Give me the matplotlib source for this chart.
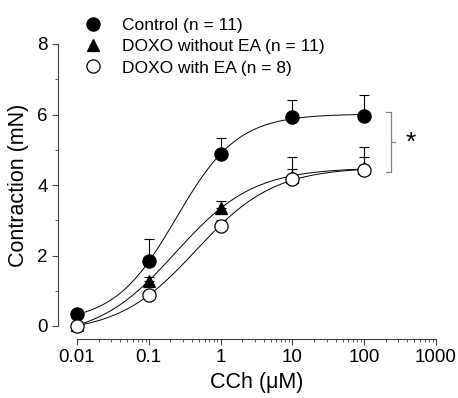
import numpy as np
import matplotlib
matplotlib.use("Agg")
import matplotlib.pyplot as plt

plt.rcParams.update({"font.family": ["Liberation Sans", "DejaVu Sans"]})

# data
conc = [0.01, 0.1, 1, 10, 100]
ctrl = [0.33, 1.83, 4.87, 5.92, 5.97]
ctrl_err = [0.08, 0.63, 0.45, 0.50, 0.57]
doxo = [0.02, 1.28, 3.36, 4.22, 4.48]
doxo_err = [0.04, 0.12, 0.20, 0.57, 0.60]
doxo_ea = [0.0, 0.89, 2.85, 4.17, 4.42]
doxo_ea_err = [0.03, 0.10, 0.15, 0.28, 0.38]
labels = ["Control (n = 11)", "DOXO without EA (n = 11)", "DOXO with EA (n = 8)"]


def hill_fit(x, y):
    """crude grid search fit of a 4-parameter logistic; bottom/top solved linearly"""
    lx = np.log10(np.asarray(x, float)); y = np.asarray(y, float)
    best = None
    for le in np.linspace(-2, 1, 301):
        for n in np.linspace(0.5, 2.5, 201):
            f = 1.0 / (1.0 + 10 ** ((le - lx) * n))
            A = np.column_stack([1 - f, f])
            coef, *_ = np.linalg.lstsq(A, y, rcond=None)
            r = np.sum((A @ coef - y) ** 2)
            if best is None or r < best[0]:
                best = (r, le, n, coef)
    _, le, n, (b, t) = best
    return lambda xx: b + (t - b) / (1.0 + 10 ** ((le - np.log10(xx)) * n))


fig = plt.figure(figsize=(4.58, 3.98), dpi=100)
ax = fig.add_axes([77 / 458, 72 / 398, 359 / 458, 282 / 398])

xs = np.logspace(-2, 2, 300)
series = [(ctrl, ctrl_err, "o", "black"), (doxo, doxo_err, "^", "black"), (doxo_ea, doxo_ea_err, "o", "white")]
handles = []
for (y, e, m, fc), lab in zip(series, labels):
    fit = hill_fit(conc, y)
    ax.plot(xs, fit(xs), color="black", lw=0.7, zorder=2)
    ax.errorbar(conc, y, yerr=[np.zeros(len(e)), e], fmt="none", ecolor="black",
                elinewidth=0.8, capsize=3.3, capthick=0.8, zorder=3, clip_on=False)
    h, = ax.plot(conc, y, ls="none", marker=m, ms=9.5 if m == "o" else 9, mfc=fc, mec="black",
                 mew=0.9, zorder=4, clip_on=False, label=lab)
    handles.append(h)

# significance bracket
bx, by0, by1 = 236, 4.38, 6.07
ax.plot([200, bx, bx, 200], [by1, by1, by0, by0], color="#808080", lw=0.9, clip_on=False)
ax.plot([bx, 270], [(by0 + by1) / 2] * 2, color="#808080", lw=0.9, clip_on=False)
ax.text(440, 5.2, "*", fontsize=19, ha="center", va="center")

ax.set_xscale("log")
ax.set_xlim(0.01, 1000)
ax.set_ylim(0, 8)
ax.set_yticks([0, 2, 4, 6, 8])
ax.set_yticks([1, 3, 5, 7], minor=True)
ax.set_xticks([0.01, 0.1, 1, 10, 100, 1000])
ax.set_xticklabels(["0.01", "0.1", "1", "10", "100", "1000"])
for s in ["top", "right"]:
    ax.spines[s].set_visible(False)
ax.spines["left"].set_position(("outward", 13.7))
ax.spines["bottom"].set_position(("outward", 9.4))
for s in ["left", "bottom"]:
    ax.spines[s].set_linewidth(0.8)
    ax.spines[s].set_color("#404040")
ax.tick_params(which="major", length=4, width=0.8, labelsize=13.5, color="#404040")
ax.tick_params(which="minor", length=2.5, width=0.6, color="#404040")
ax.set_xlabel("CCh (\u03bcM)", fontsize=15.5, labelpad=4)
ax.set_ylabel("Contraction (mN)", fontsize=15.5, labelpad=6)

fig.legend(handles=handles, loc="upper left", bbox_to_anchor=(77 / 458, 1 - 11 / 398),
           frameon=False, fontsize=12.5, handletextpad=1.2, labelspacing=0.35,
           handlelength=1.0, borderaxespad=0)

fig.savefig("out.png", dpi=100)
